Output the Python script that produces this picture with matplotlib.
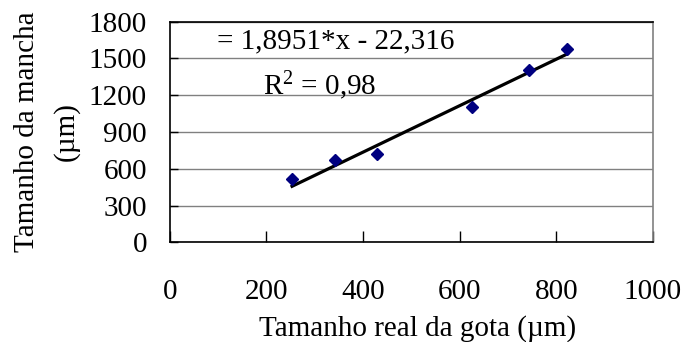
import matplotlib
matplotlib.use("Agg")
import matplotlib.pyplot as plt
import numpy as np

x_vals = [253, 342, 429, 626, 744, 823]
y_vals = [516, 669, 718, 1106, 1408, 1579]
slope = 1.8951
intercept = -22.316
x_ticks = [0, 200, 400, 600, 800, 1000]
y_ticks = [0, 300, 600, 900, 1200, 1500, 1800]

plt.rcParams['font.family'] = ['Liberation Serif', 'DejaVu Serif']
plt.rcParams['mathtext.fontset'] = 'custom'
plt.rcParams['mathtext.rm'] = 'Liberation Serif'
plt.rcParams['mathtext.it'] = 'Liberation Serif:italic'
FS = 21

W, H = 685, 342
fig = plt.figure(figsize=(6.85, 3.42), dpi=100)
ax = fig.add_axes([0.248, 0.2915, 0.705, 0.645])

xl = np.array([min(x_vals), max(x_vals)])
ax.plot(xl, slope * xl + intercept, color='black', lw=2.3, zorder=3)
ax.plot(x_vals, y_vals, linestyle='none', marker='D', markersize=6.3,
        color='#000080', zorder=4)

ax.set_xlim(0, 1000)
ax.set_ylim(0, 1800)
ax.set_xticks(x_ticks)
ax.set_yticks(y_ticks)
ax.set_xticklabels([str(v) for v in x_ticks], fontsize=FS)
ax.set_yticklabels([str(v) for v in y_ticks], fontsize=FS)
ax.tick_params(axis='x', direction='in', length=8, width=1, pad=26.5, colors='black')
ax.tick_params(axis='y', direction='in', length=6, width=1, pad=16.5, colors='black')
ax.yaxis.grid(True, color='#808080', lw=1)
ax.set_axisbelow(True)
for s in ['left', 'bottom', 'top']:
    ax.spines[s].set_color('black')
    ax.spines[s].set_linewidth(1.2)
ax.spines['right'].set_color('#808080')
ax.spines['right'].set_linewidth(1.2)

ax.set_xlabel('Tamanho real da gota (µm)', fontsize=FS)
ax.xaxis.set_label_coords(0.513, -0.328)

fig.text(27 / W, 1 - 132 / H, 'Tamanho da mancha', rotation=90, fontsize=FS,
         ha='center', va='center')
fig.text(66.5 / W, 1 - 132 / H, '(µm)', rotation=90, fontsize=FS,
         ha='center', va='center')

ax.text(0.098, 0.88, '= 1,8951*x - 22,316', transform=ax.transAxes, fontsize=FS,
        ha='left', va='baseline')
ax.text(0.1925, 0.668, r'R$^{\mathregular{2}}$ = 0,98', transform=ax.transAxes,
        fontsize=FS, ha='left', va='baseline')

fig.savefig('out.png', dpi=100)
